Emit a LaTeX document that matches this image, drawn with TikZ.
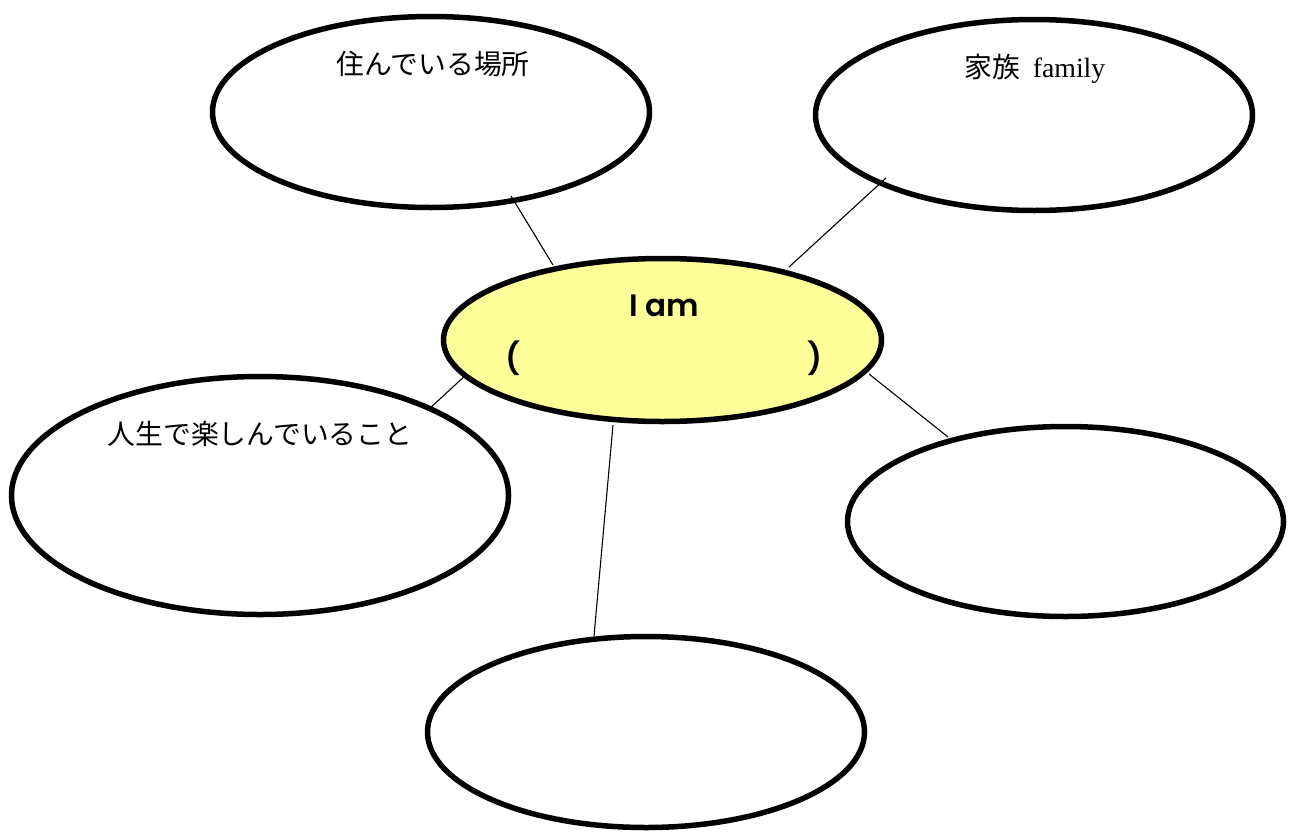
\documentclass[tikz,border=0pt]{standalone}
\usepackage{fontspec}
\setmainfont{Liberation Serif}
\newfontfamily\jp{Noto Sans CJK JP}
\newfontfamily\iam{Poppins}[UprightFont=* SemiBold]
\usetikzlibrary{shapes.geometric}
\definecolor{centerfill}{HTML}{FFFF99}
\tikzset{
  bubble/.style={ellipse, draw=black, line width=5.5pt, fill=white, inner sep=0pt, minimum width=437pt, minimum height=191pt},
  link/.style={draw=black, line width=1.1pt},
  jptext/.style={inner sep=0pt, font=\jp\fontsize{27.8}{32}\selectfont},
  iamtext/.style={inner sep=0pt, font=\iam\fontsize{31}{34}\selectfont}
}
\begin{document}
\begin{tikzpicture}[x=1pt,y=-1pt]
\useasboundingbox (0,0) rectangle (1292,833);
\fill[white] (0,0) rectangle (1292,833);
% bubbles
\node[bubble] (tl) at (431,112) {};
\node[bubble] (tr) at (1034,115) {};
\node[bubble, minimum width=497pt, minimum height=238pt] (lf) at (260,495.5) {};
\node[bubble, minimum width=436pt, minimum height=190pt] (rt) at (1065.5,521.5) {};
\node[bubble] (bt) at (646,732) {};
% connector end points
\coordinate (tlA) at (511,196);
\coordinate (tlB) at (553,265);
\coordinate (trA) at (886,178);
\coordinate (trB) at (789,267);
\coordinate (lfA) at (468,373);
\coordinate (lfB) at (428,410);
\coordinate (rtA) at (869,374);
\coordinate (rtB) at (948,437);
\coordinate (btA) at (613,425);
\coordinate (btB) at (594,636);
\draw[link] (tlA) -- (tlB);
\draw[link] (trA) -- (trB);
\draw[link] (lfA) -- (lfB);
\draw[link] (rtA) -- (rtB);
\draw[link] (btA) -- (btB);
% centre
\node[bubble, fill=centerfill, minimum width=438pt, minimum height=163pt] (c) at (662.5,340) {};
% labels
\node[jptext] (tlt) at (433,64) {住んでいる場所};
\node[jptext, anchor=base] (trt) at (1035,77) {家族\hspace{0.45em}{\rmfamily family}};
\node[jptext] (lft) at (260,434) {人生で楽しんでいること};
\node[iamtext] (iam) at (664,306) {I am};
\node[iamtext] (lp) at (513,358) {(};
\node[iamtext] (rp) at (815,358) {)};
\end{tikzpicture}
\end{document}
